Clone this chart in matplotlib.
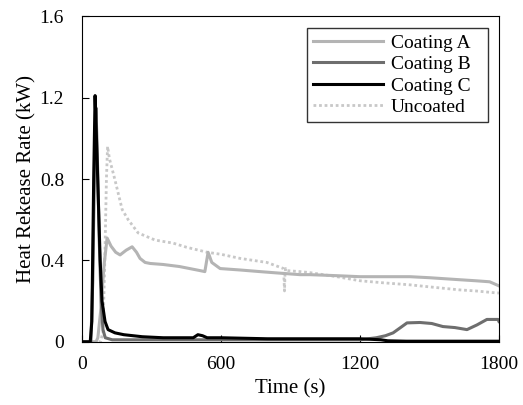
import matplotlib.pyplot as plt

plt.rcParams["font.family"] = ["Liberation Serif", "DejaVu Serif"]

# Coating A
a_t = [0, 60, 68, 80, 95, 108, 125, 145, 164, 190, 216, 235, 250, 272, 294, 350, 420, 509,
       530, 544, 560, 596, 682, 768, 824, 941, 984, 1100, 1200, 1300, 1416, 1500, 1632,
       1700, 1760, 1800]
a_q = [0, 0, 0.02, 0.15, 0.38, 0.51, 0.47, 0.44, 0.427, 0.45, 0.467, 0.44, 0.41, 0.39,
       0.385, 0.38, 0.37, 0.35, 0.345, 0.44, 0.39, 0.36, 0.353, 0.345, 0.34, 0.33, 0.33,
       0.325, 0.32, 0.32, 0.32, 0.315, 0.305, 0.30, 0.295, 0.275]

# Coating B
b_t = [0, 38, 46, 55, 60, 66, 74, 82, 90, 100, 130, 200, 400, 600, 800, 1000, 1200,
       1270, 1310, 1343, 1375, 1403, 1459, 1510, 1558, 1610, 1662, 1705, 1748, 1796, 1800]
b_q = [0, 0, 0.3, 1.0, 1.15, 0.9, 0.5, 0.2, 0.06, 0.02, 0.01, 0.01, 0.01, 0.01, 0.01,
       0.01, 0.01, 0.02, 0.03, 0.044, 0.07, 0.093, 0.095, 0.09, 0.075, 0.07, 0.06, 0.083,
       0.11, 0.11, 0.10]

# Coating C
c_t = [0, 35, 42, 50, 56, 62, 70, 78, 86, 99, 112, 142, 180, 220, 260, 350, 480,
       500, 520, 540, 600, 800, 1000, 1200, 1290, 1320, 1400, 1600, 1800]
c_q = [0, 0, 0.1, 0.8, 1.21, 1.0, 0.7, 0.4, 0.2, 0.1, 0.06, 0.044, 0.035, 0.03,
       0.025, 0.02, 0.02, 0.035, 0.03, 0.02, 0.02, 0.015, 0.015, 0.015, 0.01, 0.005,
       0.003, 0.003, 0.003]

# Uncoated
u_t = [0, 80, 90, 98, 105, 110, 118, 142, 173, 199, 242, 315, 393, 450, 540,
       600, 682, 798, 870, 874, 876, 879, 884, 941, 984, 1100, 1200, 1300, 1416, 1500,
       1632, 1700, 1791, 1800]
u_q = [0, 0, 0.05, 0.4, 0.8, 0.96, 0.9, 0.795, 0.65, 0.6, 0.535, 0.5, 0.485, 0.465,
       0.44, 0.43, 0.41, 0.39, 0.36, 0.25, 0.33, 0.36, 0.35, 0.345, 0.34, 0.32, 0.30,
       0.29, 0.28, 0.27, 0.255, 0.25, 0.24, 0.24]

x_ticks = [0, 600, 1200, 1800]
y_ticks = [0, 0.4, 0.8, 1.2, 1.6]
y_tick_labels = ["0", "0.4", "0.8", "1.2", "1.6"]

fig = plt.figure(figsize=(5.23, 4.05), dpi=100)
ax = fig.add_axes([0.157, 0.156, 0.797, 0.804])

ax.plot(u_t, u_q, color="#c8c8c8", linewidth=2, linestyle=(0, (1, 1)), label="Uncoated")
ax.plot(a_t, a_q, color="#b4b4b4", linewidth=2.2, label="Coating A")
ax.plot(b_t, b_q, color="#6e6e6e", linewidth=2.2, label="Coating B")
ax.plot(c_t, c_q, color="#000000", linewidth=2.2, label="Coating C")

ax.set_xlim(0, 1800)
ax.set_ylim(0, 1.6)
ax.set_xticks(x_ticks)
ax.set_yticks(y_ticks)
ax.set_yticklabels(y_tick_labels)
ax.tick_params(direction="in", length=5, labelsize=14, top=False, right=False)
ax.tick_params(axis="x", pad=10)
ax.tick_params(axis="y", pad=13)

ax.set_xlabel("Time (s)", fontsize=15, labelpad=5)
ax.set_ylabel("Heat Rekease Rate (kW)", fontsize=15, labelpad=2)

handles, labels = ax.get_legend_handles_labels()
order = [1, 2, 3, 0]
leg = ax.legend([handles[i] for i in order], [labels[i] for i in order],
                loc="upper left", mode="expand", fontsize=14, frameon=True,
                fancybox=False, edgecolor="black", handlelength=3.6,
                handletextpad=0.4, labelspacing=0.2, borderpad=0.3,
                borderaxespad=0, bbox_to_anchor=(0.54, 0.681, 0.434, 0.282))
leg.get_frame().set_linewidth(1.0)

plt.savefig("out.png", dpi=100)
plt.close()
